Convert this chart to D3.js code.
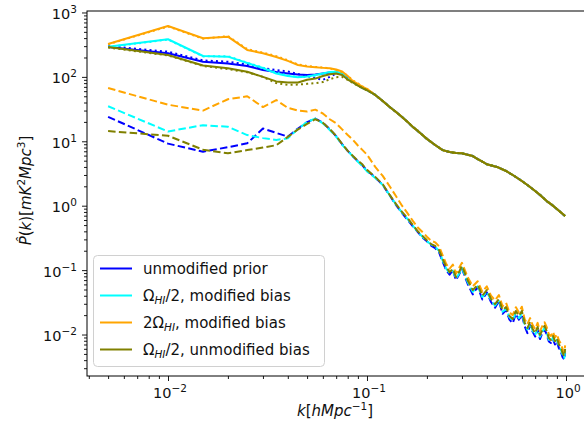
<!DOCTYPE html>
<html>
<head>
<meta charset="utf-8">
<script src="https://cdn.jsdelivr.net/npm/d3@7"></script>
<style>
  html, body { margin: 0; padding: 0; background: #fff; }
  svg { display: block; font-family: "DejaVu Sans", sans-serif; }
</style>
</head>
<body>
<svg id="chart" width="584" height="430"></svg>
<script>
// ---- wavenumbers [h/Mpc] ----
const kLow = [0.005, 0.01, 0.015, 0.02, 0.025, 0.03, 0.035, 0.04, 0.045, 0.05,
              0.055, 0.06, 0.065, 0.07, 0.075, 0.08, 0.085, 0.09, 0.095, 0.1];
const kTailUpper = [0.11, 0.12, 0.13, 0.14, 0.15, 0.16, 0.17, 0.18, 0.19, 0.2,
                    0.22, 0.24, 0.26, 0.28, 0.3, 0.32, 0.34, 0.36, 0.38, 0.4,
                    0.45, 0.5, 0.55, 0.6, 0.65, 0.7, 0.75, 0.8, 0.85, 0.9, 0.95, 0.99];
const kTailDashed = [0.11, 0.12, 0.13, 0.14, 0.15, 0.16, 0.17, 0.18, 0.19, 0.2,
                     0.21, 0.22, 0.23, 0.24, 0.25, 0.26, 0.27, 0.28, 0.29, 0.3,
                     0.32, 0.34, 0.36, 0.38, 0.4, 0.42, 0.44, 0.46, 0.48, 0.5,
                     0.52, 0.54, 0.56, 0.58, 0.6, 0.62, 0.64, 0.66, 0.68, 0.7,
                     0.72, 0.74, 0.76, 0.78, 0.8, 0.82, 0.84, 0.86, 0.88, 0.9,
                     0.92, 0.94, 0.96, 0.98, 0.99];

// ---- solid curves, k <= 0.1 ----
const blueSolidLow   = [292, 232, 172, 161, 148, 128, 119, 113, 109, 107, 109, 113, 117, 119, 111, 94, 83, 75, 67, 63];
const cyanSolidLow   = [294, 384, 211, 206, 164, 137, 113, 103, 99, 101, 107, 113, 119, 120, 111, 93, 83, 75, 67, 63];
const orangeSolidLow = [324, 616, 398, 421, 262, 232, 204, 177, 153, 145, 141, 138, 136, 130, 121, 103, 86, 78, 70, 65];
const oliveSolidLow  = [291, 219, 150, 136, 120, 100, 85, 82, 82, 90, 94, 103, 110, 113, 107, 91, 82, 73, 67, 62];

// ---- dotted curves, k <= 0.1 ----
const blueDottedLow   = [300, 246, 180, 172, 156, 136, 128, 121, 111, 103, 96, 90, 100, 113, 111, 93, 83, 75, 67, 63];
const cyanDottedLow   = [290, 380, 208, 210, 166, 140, 116, 105, 100, 100, 105, 112, 118, 121, 112, 95, 84, 75, 68, 63];
const orangeDottedLow = [320, 606, 392, 430, 270, 238, 210, 182, 156, 148, 143, 140, 135, 128, 118, 104, 88, 79, 71, 65];
const oliveDottedLow  = [286, 215, 148, 132, 118, 100, 80, 75, 76, 78, 80, 83, 92, 99, 100, 90, 80, 73, 67, 62];

// shared high-k part of the solid and dotted curves
const upperTail = [52.4, 42.3, 34.1, 28.5, 23.8, 20.0, 16.7, 14.5, 12.5, 10.9,
                   8.75, 7.3, 6.8, 6.6, 6.5, 6.2, 5.9, 5.3, 4.85, 4.4,
                   4.0, 3.46, 2.89, 2.42, 2.02, 1.69, 1.42, 1.18, 1.03, 0.89, 0.77, 0.69];

// ---- dashed curves ----
const blueDashedLow   = [24, 9.2, 6.9, 8.1, 9.3, 15.8, 13.5, 11.8, 15.8, 19.8, 22.5, 19.5, 15.3, 12, 9, 7.1, 5.8, 4.9, 4.2, 3.5];
const cyanDashedLow   = [35, 14.2, 17.8, 16.8, 12.5, 11.2, 10.5, 11.1, 15.5, 20, 22.5, 19, 15, 11.8, 8.8, 7.1, 5.8, 4.8, 4.1, 3.4];
const orangeDashedLow = [67, 37, 30, 45, 50, 34, 43.7, 33, 30, 29, 31, 27, 22, 19, 15.3, 12.5, 10.5, 8.6, 7.3, 6.2];
const oliveDashedLow  = [14.4, 12.2, 7.4, 6.5, 7.3, 8.0, 8.7, 11.7, 15.3, 18.6, 22, 19.4, 15.5, 12.1, 9.1, 7.1, 5.9, 5.0, 4.35, 3.6];

const blueDashedTail = [2.75, 2.1, 1.45, 1.02, 0.77, 0.6, 0.48, 0.39, 0.32, 0.28,
                        0.24, 0.22, 0.19, 0.135, 0.1, 0.085, 0.1, 0.07, 0.085, 0.105,
                        0.062, 0.042, 0.055, 0.035, 0.045, 0.032, 0.026, 0.033, 0.021, 0.024,
                        0.017, 0.015, 0.021, 0.017, 0.02, 0.0135, 0.0105, 0.014, 0.011, 0.0093,
                        0.012, 0.0085, 0.0105, 0.012, 0.01, 0.0078, 0.0074, 0.0085, 0.007, 0.0078,
                        0.0062, 0.0056, 0.0045, 0.0041, 0.0052];
const cyanDashedTail = [2.7, 2.1, 1.45, 1.04, 0.78, 0.62, 0.49, 0.39, 0.33, 0.28,
                        0.25, 0.23, 0.2, 0.14, 0.105, 0.09, 0.098, 0.074, 0.088, 0.108,
                        0.066, 0.046, 0.056, 0.038, 0.046, 0.034, 0.028, 0.034, 0.0225, 0.025,
                        0.0185, 0.0165, 0.022, 0.018, 0.021, 0.0145, 0.012, 0.0148, 0.0115, 0.0098,
                        0.0125, 0.0092, 0.011, 0.0128, 0.0107, 0.0083, 0.0078, 0.009, 0.0074, 0.0083,
                        0.0067, 0.006, 0.0049, 0.0043, 0.0056];
const orangeDashedTail = [4.0, 2.9, 2.0, 1.4, 1.0, 0.76, 0.58, 0.46, 0.39, 0.33,
                          0.285, 0.27, 0.235, 0.17, 0.125, 0.105, 0.122, 0.088, 0.108, 0.13,
                          0.079, 0.056, 0.067, 0.046, 0.056, 0.04, 0.034, 0.041, 0.0275, 0.031,
                          0.022, 0.02, 0.0265, 0.022, 0.027, 0.0172, 0.0145, 0.018, 0.014, 0.0122,
                          0.0152, 0.0113, 0.0135, 0.0155, 0.013, 0.0101, 0.0095, 0.011, 0.009, 0.0101,
                          0.0082, 0.0073, 0.006, 0.0053, 0.0068];
const oliveDashedTail = [2.8, 2.15, 1.47, 1.06, 0.80, 0.64, 0.50, 0.40, 0.34, 0.29,
                         0.254, 0.237, 0.205, 0.149, 0.112, 0.093, 0.104, 0.078, 0.093, 0.116,
                         0.070, 0.049, 0.059, 0.040, 0.049, 0.0356, 0.0297, 0.0356, 0.024, 0.0267,
                         0.0194, 0.0174, 0.0232, 0.0194, 0.0232, 0.0151, 0.0126, 0.0156, 0.0122, 0.0105,
                         0.0131, 0.0098, 0.0117, 0.0136, 0.0113, 0.0088, 0.0082, 0.0095, 0.0079, 0.0088,
                         0.0071, 0.0064, 0.0052, 0.0046, 0.006];

// ---- axis ticks and legend ----
const xMajorTicks = [0.01, 0.1, 1];
const yMajorTicks = [0.01, 0.1, 1, 10, 100, 1000];
const xTickExponents = ["−2", "−1", "0"];
const yTickExponents = ["−2", "−1", "0", "1", "2", "3"];
const legendLabels = [
  [["unmodified prior", ""]],
  [["Ω", ""], ["HI", "sub"], ["/2, modified bias", ""]],
  [["2Ω", ""], ["HI", "sub"], [", modified bias", ""]],
  [["Ω", ""], ["HI", "sub"], ["/2, unmodified bias", ""]]
];
const colors = { blue: "#0000ff", cyan: "#00ffff", orange: "#ffa500", olive: "#808000" };
const legendColors = ["blue", "cyan", "orange", "olive"];
const dashes = { solid: null, dotted: "2,3.2", dashed: "7.5,3.3" };

const seriesList = [
  { c: "blue",   s: "solid",  low: blueSolidLow,    tk: kTailUpper,  tail: upperTail },
  { c: "blue",   s: "dotted", low: blueDottedLow,   tk: kTailUpper,  tail: upperTail },
  { c: "blue",   s: "dashed", low: blueDashedLow,   tk: kTailDashed, tail: blueDashedTail },
  { c: "cyan",   s: "solid",  low: cyanSolidLow,    tk: kTailUpper,  tail: upperTail },
  { c: "cyan",   s: "dotted", low: cyanDottedLow,   tk: kTailUpper,  tail: upperTail },
  { c: "cyan",   s: "dashed", low: cyanDashedLow,   tk: kTailDashed, tail: cyanDashedTail },
  { c: "orange", s: "dotted", low: orangeDottedLow, tk: kTailUpper,  tail: upperTail },
  { c: "orange", s: "solid",  low: orangeSolidLow,  tk: kTailUpper,  tail: upperTail },
  { c: "orange", s: "dashed", low: orangeDashedLow, tk: kTailDashed, tail: orangeDashedTail },
  { c: "olive",  s: "solid",  low: oliveSolidLow,   tk: kTailUpper,  tail: upperTail },
  { c: "olive",  s: "dotted", low: oliveDottedLow,  tk: kTailUpper,  tail: upperTail },
  { c: "olive",  s: "dashed", low: oliveDashedLow,  tk: kTailDashed, tail: oliveDashedTail }
];

// ---- layout ----
const plot = { left: 87, top: 11, right: 589, bottom: 376 };
const svg = d3.select("#chart");

const x = d3.scaleLog().domain([0.003917, 1.305]).range([plot.left, plot.right]);
const y = d3.scaleLog().domain([0.00227, 1054]).range([plot.bottom, plot.top]);

svg.append("defs").append("clipPath").attr("id", "plotClip")
  .append("rect")
  .attr("x", plot.left).attr("y", plot.top)
  .attr("width", plot.right - plot.left).attr("height", plot.bottom - plot.top);

// ---- curves ----
const line = d3.line().x(d => x(d[0])).y(d => y(d[1]));
const curves = svg.append("g").attr("clip-path", "url(#plotClip)");
seriesList.forEach(sr => {
  const pts = kLow.map((k, i) => [k, sr.low[i]])
    .concat(sr.tk.map((k, i) => [k, sr.tail[i]]));
  curves.append("path")
    .attr("d", line(pts))
    .attr("fill", "none")
    .attr("stroke", colors[sr.c])
    .attr("stroke-width", 2)
    .attr("stroke-linejoin", "round")
    .attr("stroke-dasharray", dashes[sr.s]);
});

// ---- minor tick values ----
const xMinor = [], yMinor = [];
for (let e = -3; e <= 0; e++) for (let m = 2; m <= 9; m++) {
  const v = m * Math.pow(10, e);
  if (v > x.domain()[0] && v < x.domain()[1]) xMinor.push(v);
}
for (let e = -3; e <= 3; e++) for (let m = 2; m <= 9; m++) {
  const v = m * Math.pow(10, e);
  if (v > y.domain()[0] && v < y.domain()[1]) yMinor.push(v);
}

function tickAxis(axisFn, scale, values, size, transform) {
  const g = svg.append("g").attr("transform", transform)
    .call(axisFn(scale).tickValues(values).tickSize(size).tickFormat(() => ""));
  g.select(".domain").remove();
  g.selectAll(".tick line").attr("stroke", "#000").attr("stroke-width", 0.9);
  return g;
}
tickAxis(d3.axisBottom, x, xMinor, 3, `translate(0,${plot.bottom})`);
tickAxis(d3.axisBottom, x, xMajorTicks, 5, `translate(0,${plot.bottom})`);
tickAxis(d3.axisLeft, y, yMinor, 3, `translate(${plot.left},0)`);
tickAxis(d3.axisLeft, y, yMajorTicks, 5, `translate(${plot.left},0)`);

// ---- spines ----
svg.append("rect")
  .attr("x", plot.left).attr("y", plot.top)
  .attr("width", plot.right - plot.left).attr("height", plot.bottom - plot.top)
  .attr("fill", "none").attr("stroke", "#000").attr("stroke-width", 1);

// ---- tick labels (10^n) ----
function powerLabel(sel, exp) {
  sel.append("tspan").text("10");
  sel.append("tspan").attr("font-size", 10.5).attr("dy", -6).text(exp);
}
xMajorTicks.forEach((v, i) => {
  const t = svg.append("text")
    .attr("x", x(v) + 2).attr("y", plot.bottom + 22)
    .attr("text-anchor", "middle").attr("font-size", 14.5).attr("fill", "#111");
  powerLabel(t, xTickExponents[i]);
});
yMajorTicks.forEach((v, i) => {
  const t = svg.append("text")
    .attr("x", plot.left - 10).attr("y", y(v) + 6.5)
    .attr("text-anchor", "end").attr("font-size", 14.5).attr("fill", "#111");
  powerLabel(t, yTickExponents[i]);
});

// ---- axis titles ----
function richText(sel, parts, size) {
  let shift = 0;
  parts.forEach(([txt, kind]) => {
    const ts = sel.append("tspan").text(txt);
    let target = 0;
    if (kind === "sup") { target = -6; ts.attr("font-size", size * 0.7); }
    if (kind === "sub") { target = 3; ts.attr("font-size", size * 0.7).attr("font-style", "italic"); }
    if (kind === "i") ts.attr("font-style", "italic");
    ts.attr("dy", target - shift);
    shift = target;
  });
}
const xTitle = svg.append("text")
  .attr("x", (plot.left + plot.right) / 2 - 3).attr("y", 416)
  .attr("text-anchor", "middle").attr("font-size", 15).attr("fill", "#111");
richText(xTitle, [["k", "i"], ["[", ""], ["hMpc", "i"], ["−1", "sup"], ["]", ""]], 15);

const yTitle = svg.append("text")
  .attr("transform", `translate(31,${(plot.top + plot.bottom) / 2 - 3}) rotate(-90)`)
  .attr("text-anchor", "middle").attr("font-size", 15).attr("fill", "#111");
richText(yTitle, [["P\u0302", "i"], ["(", ""], ["k", "i"], [")[", ""], ["mK", "i"], ["2", "sup"],
                  ["Mpc", "i"], ["3", "sup"], ["]", ""]], 15);

// ---- legend ----
const lg = svg.append("g");
lg.append("rect")
  .attr("x", 93.5).attr("y", 255.5).attr("width", 231).attr("height", 111).attr("rx", 4)
  .attr("fill", "#fff").attr("fill-opacity", 0.85)
  .attr("stroke", "#d0d0d0").attr("stroke-width", 1);
legendLabels.forEach((parts, i) => {
  const cy = 268.5 + i * 27;
  lg.append("line")
    .attr("x1", 100).attr("x2", 132).attr("y1", cy).attr("y2", cy)
    .attr("stroke", colors[legendColors[i]]).attr("stroke-width", 2);
  const t = lg.append("text").attr("x", 143).attr("y", cy + 5.5)
    .attr("font-size", 15).attr("fill", "#111");
  richText(t, parts, 15);
});
</script>
</body>
</html>
